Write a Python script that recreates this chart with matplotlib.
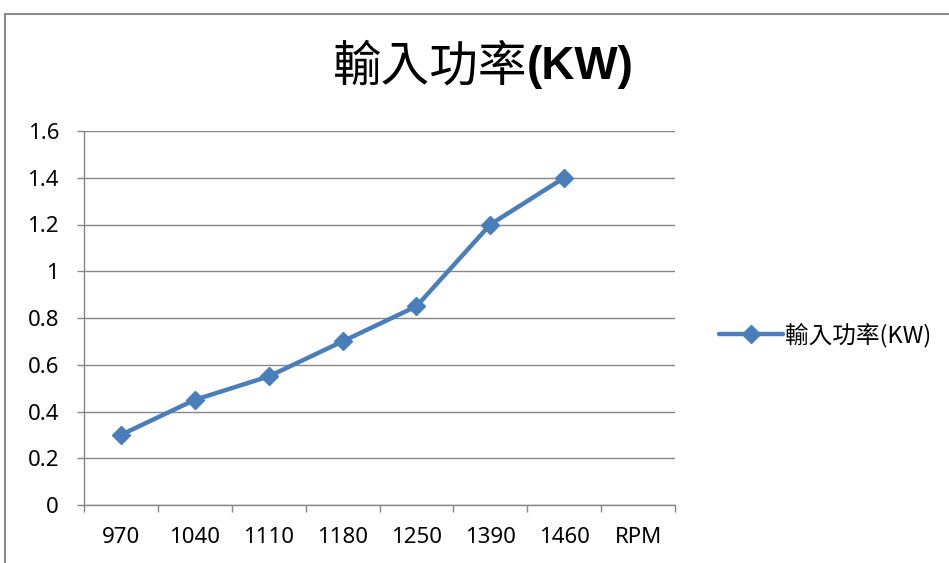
import matplotlib
matplotlib.use("Agg")
import matplotlib.pyplot as plt
import matplotlib.ticker as ticker
from matplotlib.lines import Line2D
import numpy as np

# Data
kategorier = ["970", "1040", "1110", "1180", "1250", "1390", "1460", "RPM"]
effekt_kw = [0.3, 0.45, 0.55, 0.7, 0.85, 1.2, 1.4, np.nan]
y_ticks = [0, 0.2, 0.4, 0.6, 0.8, 1, 1.2, 1.4, 1.6]
y_labels = ["0", "0.2", "0.4", "0.6", "0.8", "1", "1.2", "1.4", "1.6"]

serie_navn = "輸入功率(KW)"
tittel_cjk = "輸入功率"
tittel_latin = "(KW)"

GRAA = "#868686"
BLAA = "#4A7EBB"
W, H = 949, 563

fig = plt.figure(figsize=(W / 100, H / 100), dpi=100)
ax = fig.add_axes([84 / W, 1 - 505 / H, (675 - 84) / W, (505 - 131) / H])

x = np.arange(len(kategorier))
ax.plot(x, effekt_kw, color=BLAA, lw=3.2, marker="D", markersize=9.5,
        markerfacecolor=BLAA, markeredgecolor=BLAA, label=serie_navn,
        solid_capstyle="round", solid_joinstyle="round")

ax.set_xlim(-0.5, len(kategorier) - 0.5)
ax.set_ylim(0, 1.6)

# y-akse
ax.set_yticks(y_ticks)
ax.set_yticklabels(y_labels)
ax.yaxis.grid(True, color=GRAA, lw=1)
ax.set_axisbelow(True)

# x-akse: tikker på kategorigrensene, etiketter i midten
ax.xaxis.set_major_locator(ticker.FixedLocator(np.arange(-0.5, len(kategorier), 1.0)))
ax.xaxis.set_major_formatter(ticker.NullFormatter())
ax.xaxis.set_minor_locator(ticker.FixedLocator(x))
ax.xaxis.set_minor_formatter(ticker.FixedFormatter(kategorier))

for s in ("top", "right"):
    ax.spines[s].set_visible(False)
for s in ("left", "bottom"):
    ax.spines[s].set_color(GRAA)
    ax.spines[s].set_linewidth(1)

font = ["Noto Sans", "Noto Sans CJK TC"]
ax.tick_params(axis="y", which="major", direction="out", length=5, width=1,
               color=GRAA, pad=13, labelsize=16, labelcolor="black")
ax.tick_params(axis="x", which="major", direction="out", length=5, width=1, color=GRAA)
ax.tick_params(axis="x", which="minor", length=0, pad=16, labelsize=16, labelcolor="black")
for lbl in ax.get_yticklabels() + ax.get_xticklabels(minor=True):
    lbl.set_family(font)

# tittel i to deler (kinesisk vanlig, (KW) fet)
fig.text(527 / W, 1 - 67 / H, tittel_cjk, ha="right", va="center",
         fontsize=35, family=["Noto Sans CJK TC"])
fig.text(527 / W, 1 - 67 / H, tittel_latin, ha="left", va="center",
         fontsize=33, fontweight="bold", family=["Liberation Sans", "DejaVu Sans"])

# legende
leg = fig.legend(loc="center left", bbox_to_anchor=(698 / W, 1 - 335 / H),
                 frameon=False, handlelength=2.7, handletextpad=0.1,
                 prop={"family": ["Noto Sans CJK TC"], "size": 17})

# ytre ramme (kun venstre og topp synlig)
fig.add_artist(Line2D([5 / W, 1], [1 - 14 / H, 1 - 14 / H], transform=fig.transFigure,
                      color="#8c8c8c", lw=1.5))
fig.add_artist(Line2D([5 / W, 5 / W], [0, 1 - 14 / H], transform=fig.transFigure,
                      color="#8c8c8c", lw=1.5))

fig.savefig("out.png", dpi=100)
